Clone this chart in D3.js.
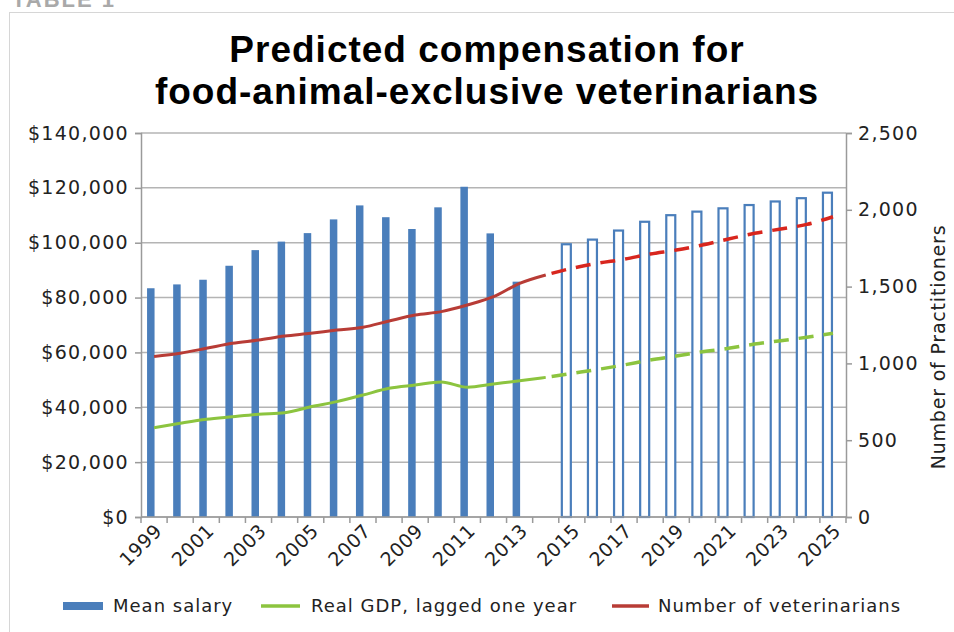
<!DOCTYPE html>
<html>
<head>
<meta charset="utf-8">
<script src="https://cdn.jsdelivr.net/npm/d3@7"></script>
<style>
  body { margin: 0; background: white; }
  svg { display: block; }
</style>
</head>
<body>
<script>
var width = 954;
var height = 632;

// categories
var years = ["1999", "2000", "2001", "2002", "2003", "2004", "2005", "2006", "2007",
             "2008", "2009", "2010", "2011", "2012", "2013", "2014", "2015", "2016",
             "2017", "2018", "2019", "2020", "2021", "2022", "2023", "2024", "2025"];
var labelYears = ["1999", "2001", "2003", "2005", "2007", "2009", "2011", "2013",
                  "2015", "2017", "2019", "2021", "2023", "2025"];

// mean salary, actual (filled bars) and predicted (outline bars)
var salaryActualYears = ["1999", "2000", "2001", "2002", "2003", "2004", "2005", "2006",
                         "2007", "2008", "2009", "2010", "2011", "2012", "2013"];
var salaryActual = [83400, 84800, 86500, 91600, 97300, 100400, 103500, 108500,
                    113600, 109300, 105000, 112900, 120400, 103400, 85800];
var salaryPredYears = ["2015", "2016", "2017", "2018", "2019", "2020", "2021", "2022",
                       "2023", "2024", "2025"];
var salaryPred = [99800, 101500, 104800, 108000, 110400, 111700, 112900, 114100,
                  115400, 116600, 118600];

// lines on the right axis
var lineActualYears = ["1999", "2000", "2001", "2002", "2003", "2004", "2005", "2006",
                       "2007", "2008", "2009", "2010", "2011", "2012", "2013", "2014"];
var lineForecastYears = ["2014", "2015", "2016", "2017", "2018", "2019", "2020", "2021",
                         "2022", "2023", "2024", "2025"];
var vetsActual = [1045, 1066, 1098, 1131, 1152, 1178, 1196, 1217, 1235, 1276, 1315,
                  1337, 1380, 1434, 1521, 1576];
var vetsForecast = [1576, 1619, 1652, 1678, 1712, 1738, 1771, 1810, 1847, 1875, 1905, 1955];
var gdpActual = [581, 610, 636, 653, 669, 679, 718, 751, 794, 838, 859, 879, 845, 866,
                 887, 909];
var gdpForecast = [909, 935, 961, 990, 1022, 1048, 1076, 1098, 1126, 1148, 1170, 1196];

// ticks
var leftTicks = [0, 20000, 40000, 60000, 80000, 100000, 120000, 140000];
var rightTicks = [0, 500, 1000, 1500, 2000, 2500];

var blue = "#4a7ebb";
var green = "#8cc43f";
var red = "#b83c36";
var redDash = "#d8261e";
var gridColor = "#b4b4b4";
var font = "DejaVu Sans, sans-serif";

var svg = d3.select("body")
    .append("svg")
    .attr("width", width)
    .attr("height", height);

// outer frame + caption that sits mostly above the picture
svg.append("rect")
    .attr("x", 9.5)
    .attr("y", 12.5)
    .attr("width", 980)
    .attr("height", 660)
    .attr("fill", "none")
    .attr("stroke", "#d6d6d6");

svg.append("text")
    .attr("x", 12)
    .attr("y", 7)
    .text("TABLE 1")
    .attr("fill", "#a9a9a9")
    .style("font-family", "Liberation Sans, sans-serif")
    .style("font-weight", "bold")
    .style("font-size", "22px")
    .style("letter-spacing", "2px");

svg.append("text")
    .attr("x", 487)
    .attr("y", 62)
    .style("text-anchor", "middle")
    .text("Predicted compensation for")
    .style("font-family", "Liberation Sans, sans-serif")
    .style("font-weight", "bold")
    .style("font-size", "37px")
    .style("letter-spacing", "1px");

svg.append("text")
    .attr("x", 487)
    .attr("y", 104)
    .style("text-anchor", "middle")
    .text("food-animal-exclusive veterinarians")
    .style("font-family", "Liberation Sans, sans-serif")
    .style("font-weight", "bold")
    .style("font-size", "37px")
    .style("letter-spacing", "1px");

var x = d3.scaleBand()
    .domain(years)
    .range([141, 846])
    .padding(0);

var y = d3.scaleLinear()
    .domain([0, 140000])
    .range([517, 133]);

var yR = d3.scaleLinear()
    .domain([0, 2500])
    .range([517, 133]);

var bw = x.bandwidth();

// gridlines
svg.append("g")
    .selectAll("line")
    .data(leftTicks)
    .join("line")
    .attr("x1", 141)
    .attr("x2", 846)
    .attr("y1", d => y(d))
    .attr("y2", d => y(d))
    .attr("stroke", gridColor)
    .attr("stroke-width", 1.5);

// filled bars
svg.append("g")
    .selectAll("rect")
    .data(salaryActual)
    .join("rect")
    .attr("x", (d, i) => x(salaryActualYears[i]) + bw / 2 - 7)
    .attr("y", d => y(d))
    .attr("width", 7.5)
    .attr("height", d => 517 - y(d))
    .attr("fill", blue);

// outline bars
svg.append("g")
    .selectAll("rect")
    .data(salaryPred)
    .join("rect")
    .attr("x", (d, i) => x(salaryPredYears[i]) + bw / 2 - 10)
    .attr("y", d => y(d) + 1)
    .attr("width", 9)
    .attr("height", d => 517 - y(d) - 1)
    .attr("fill", "white")
    .attr("stroke", blue)
    .attr("stroke-width", 2.2);

var line = d3.line()
    .x(d => x(d.year) + bw / 2)
    .y(d => yR(d.value))
    .curve(d3.curveMonotoneX);

function pairs(ys, vs) {
    return vs.map((v, i) => ({year: ys[i], value: v}));
}

svg.append("path")
    .datum(pairs(lineActualYears, gdpActual))
    .attr("d", line)
    .attr("fill", "none")
    .attr("stroke", green)
    .attr("stroke-width", 3);

svg.append("path")
    .datum(pairs(lineForecastYears, gdpForecast))
    .attr("d", line)
    .attr("fill", "none")
    .attr("stroke", green)
    .attr("stroke-width", 3.5)
    .attr("stroke-dasharray", "15,10")
    .attr("stroke-dashoffset", -6);

svg.append("path")
    .datum(pairs(lineActualYears, vetsActual))
    .attr("d", line)
    .attr("fill", "none")
    .attr("stroke", red)
    .attr("stroke-width", 3);

svg.append("path")
    .datum(pairs(lineForecastYears, vetsForecast))
    .attr("d", line)
    .attr("fill", "none")
    .attr("stroke", redDash)
    .attr("stroke-width", 3.5)
    .attr("stroke-dasharray", "15,10")
    .attr("stroke-dashoffset", -6);

// left axis
var leftAxis = svg.append("g")
    .attr("transform", "translate(141,0)")
    .call(d3.axisLeft(y).tickValues(leftTicks).tickSize(6).tickPadding(6)
        .tickFormat(d => "$" + d3.format(",")(d)));

// right axis
var rightAxis = svg.append("g")
    .attr("transform", "translate(846,0)")
    .call(d3.axisRight(yR).tickValues(rightTicks).tickSize(6).tickPadding(6)
        .tickFormat(d3.format(",")));

[leftAxis, rightAxis].forEach(function(g) {
    g.select(".domain").attr("stroke", "#9a9a9a").attr("stroke-width", 1.5);
    g.selectAll(".tick line").attr("stroke", "#9a9a9a").attr("stroke-width", 1.5);
    g.selectAll("text")
        .attr("fill", "#222")
        .style("font-family", font)
        .style("font-size", "19px")
        .style("letter-spacing", "1.3px");
});

// bottom axis: ticks at band edges, labels every other year
var bottom = svg.append("g");
bottom.append("line")
    .attr("x1", 141)
    .attr("x2", 846)
    .attr("y1", 517)
    .attr("y2", 517)
    .attr("stroke", "#9a9a9a")
    .attr("stroke-width", 1.5);

bottom.selectAll(".xt")
    .data(years.concat(["end"]))
    .join("line")
    .attr("class", "xt")
    .attr("x1", d => d === "end" ? 846 : x(d))
    .attr("x2", d => d === "end" ? 846 : x(d))
    .attr("y1", 517)
    .attr("y2", 523)
    .attr("stroke", "#9a9a9a")
    .attr("stroke-width", 1.5);

bottom.selectAll(".xl")
    .data(labelYears)
    .join("text")
    .attr("class", "xl")
    .attr("transform", d => "translate(" + (x(d) + bw / 2 + 9) + ",532) rotate(-45)")
    .style("text-anchor", "end")
    .attr("fill", "#222")
    .style("font-family", font)
    .style("font-size", "19px")
    .style("letter-spacing", "0.5px")
    .text(d => d);

// right axis title
svg.append("text")
    .attr("transform", "translate(945,347) rotate(-90)")
    .style("text-anchor", "middle")
    .attr("fill", "#222")
    .style("font-family", font)
    .style("font-size", "19px")
    .style("letter-spacing", "0.8px")
    .text("Number of Practitioners");

// legend
var legend = svg.append("g");
legend.append("rect")
    .attr("x", 63)
    .attr("y", 602)
    .attr("width", 40)
    .attr("height", 8)
    .attr("fill", blue);
legend.append("text")
    .attr("x", 113)
    .attr("y", 612)
    .text("Mean salary");
legend.append("line")
    .attr("x1", 261)
    .attr("x2", 300)
    .attr("y1", 606)
    .attr("y2", 606)
    .attr("stroke", green)
    .attr("stroke-width", 3.5);
legend.append("text")
    .attr("x", 311)
    .attr("y", 612)
    .text("Real GDP, lagged one year");
legend.append("line")
    .attr("x1", 612)
    .attr("x2", 649)
    .attr("y1", 606)
    .attr("y2", 606)
    .attr("stroke", red)
    .attr("stroke-width", 3.5);
legend.append("text")
    .attr("x", 658)
    .attr("y", 612)
    .text("Number of veterinarians");
legend.selectAll("text")
    .attr("fill", "#222")
    .style("font-family", font)
    .style("font-size", "18px")
    .style("letter-spacing", "1px");
</script>
</body>
</html>
